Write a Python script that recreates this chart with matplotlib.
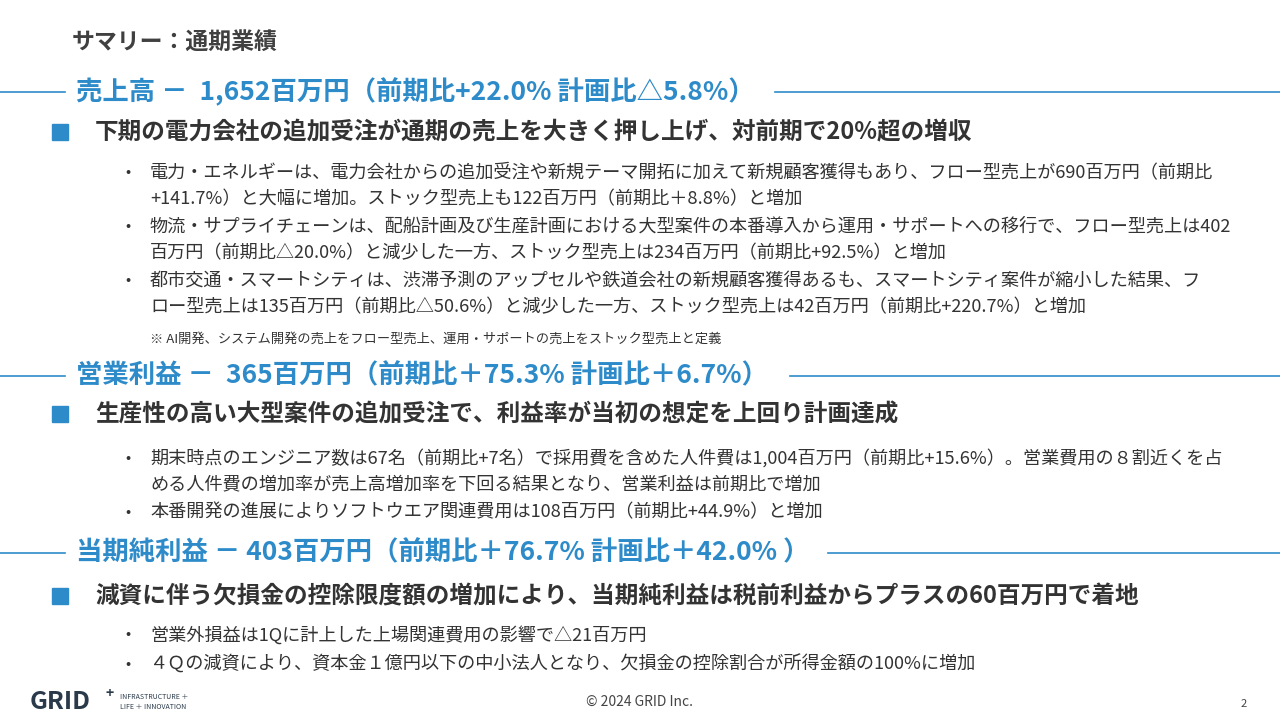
import matplotlib.pyplot as plt

plt.rcParams['font.family'] = ['Noto Sans CJK JP', 'DejaVu Sans']

BLUE = '#2e8bc9'
DARK = '#333333'

title = 'サマリー：通期業績'

headers = [
    '売上高 －  1,652百万円（前期比+22.0% 計画比△5.8%）',
    '営業利益 －  365百万円（前期比＋75.3% 計画比＋6.7%）',
    '当期純利益 － 403百万円（前期比＋76.7% 計画比＋42.0% ）',
]
header_y = [92, 376, 553]
header_line_end = [775, 790, 828]

leads = [
    '下期の電力会社の追加受注が通期の売上を大きく押し上げ、対前期で20%超の増収',
    '生産性の高い大型案件の追加受注で、利益率が当初の想定を上回り計画達成',
    '減資に伴う欠損金の控除限度額の増加により、当期純利益は税前利益からプラスの60百万円で着地',
]
lead_y = [132, 414, 596]

bullets = [
    [('電力・エネルギーは、電力会社からの追加受注や新規テーマ開拓に加えて新規顧客獲得もあり、フロー型売上が690百万円（前期比',
      '+141.7%）と大幅に増加。ストック型売上も122百万円（前期比＋8.8%）と増加'),
     ('物流・サプライチェーンは、配船計画及び生産計画における大型案件の本番導入から運用・サポートへの移行で、フロー型売上は402',
      '百万円（前期比△20.0%）と減少した一方、ストック型売上は234百万円（前期比+92.5%）と増加'),
     ('都市交通・スマートシティは、渋滞予測のアップセルや鉄道会社の新規顧客獲得あるも、スマートシティ案件が縮小した結果、フ',
      'ロー型売上は135百万円（前期比△50.6%）と減少した一方、ストック型売上は42百万円（前期比+220.7%）と増加')],
    [('期末時点のエンジニア数は67名（前期比+7名）で採用費を含めた人件費は1,004百万円（前期比+15.6%）。営業費用の８割近くを占',
      'める人件費の増加率が売上高増加率を下回る結果となり、営業利益は前期比で増加'),
     ('本番開発の進展によりソフトウエア関連費用は108百万円（前期比+44.9%）と増加',)],
    [('営業外損益は1Qに計上した上場関連費用の影響で△21百万円',),
     ('４Ｑの減資により、資本金１億円以下の中小法人となり、欠損金の控除割合が所得金額の100%に増加',)],
]
bullet_y = [[173, 227, 281], [458, 512], [635, 664]]
note = '※ AI開発、システム開発の売上をフロー型売上、運用・サポートの売上をストック型売上と定義'

W, H = 1280, 720
fig = plt.figure(figsize=(12.8, 7.2), dpi=100)
ax = fig.add_axes([0, 0, 1, 1])
ax.set_xlim(0, W)
ax.set_ylim(H, 0)
ax.axis('off')

ax.text(72, 42, title, fontsize=16.5, fontweight='bold', color='#404040', va='center')

for h, y, xe in zip(headers, header_y, header_line_end):
    ax.plot([0, 65], [y, y], color=BLUE, lw=1.2)
    ax.plot([xe, W], [y, y], color=BLUE, lw=1.2)
    ax.text(76, y, h, fontsize=19, fontweight='bold', color=BLUE, va='center')

for t, y in zip(leads, lead_y):
    ax.plot(60, y, marker='s', ms=11, color=BLUE)
    ax.text(95, y, t, fontsize=17, fontweight='bold', color=DARK, va='center')

for group, ys in zip(bullets, bullet_y):
    for lines, y in zip(group, ys):
        ax.text(125, y, '•', fontsize=11, color=DARK, va='center')
        for k, line in enumerate(lines):
            ax.text(150, y + 26 * k, line, fontsize=13.1, color=DARK, va='center')

ax.text(150, 339, note, fontsize=9.5, color=DARK, va='center')

# footer
ax.text(30, 702, 'GRID', fontsize=18, fontweight='bold', color='#2a3a4a', va='center')
ax.text(106, 694, '+', fontsize=10, fontweight='bold', color='#2a3a4a', va='center')
ax.text(120, 697, 'INFRASTRUCTURE ＋', fontsize=5, color='#2a3a4a', va='center')
ax.text(120, 707, 'LIFE ＋ INNOVATION', fontsize=5, color='#2a3a4a', va='center')
ax.text(640, 702, '© 2024 GRID Inc.', fontsize=10, color='#444444', ha='center', va='center')
ax.text(1244, 704, '2', fontsize=8, color='#444444', ha='center', va='center')

fig.savefig('out.png', dpi=100)
